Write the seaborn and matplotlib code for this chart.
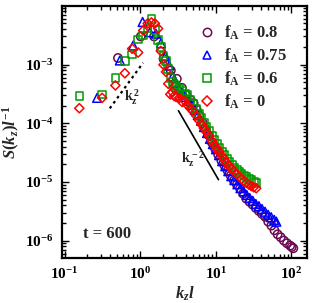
import numpy as np
import pandas as pd
import matplotlib
matplotlib.use("Agg")
import matplotlib.pyplot as plt
from matplotlib.lines import Line2D
from matplotlib.ticker import LogLocator, LogFormatterMathtext, NullFormatter
import seaborn as sns

# f_A = 0.8
k_08 = [0.51, 1.02, 1.53, 2.04, 2.55, 3.06, 3.57, 4.08, 4.6, 5.1, 5.6, 6.1, 6.7, 7.4, 8.1,
        8.9, 9.8, 10.8, 11.9, 13.1, 14.4, 15.8, 17.4, 19.1, 21.0, 23.1, 25.4, 28.0, 30.8,
        33.9, 37.3, 41.0, 45.1, 49.6, 54.6, 60.0, 66.0, 72.6, 79.9, 87.9, 96.7, 101.5, 106.5]
s_08 = [1.29e-3, 3.0e-3, 3.0e-3, 1.25e-3, 7.9e-4, 5.7e-4, 4.0e-4, 3.0e-4, 2.5e-4, 2.2e-4,
        1.7e-4, 1.35e-4, 1.02e-4, 7.9e-5, 6.2e-5, 4.7e-5, 3.7e-5, 2.9e-5, 2.3e-5, 1.9e-5,
        1.55e-5, 1.28e-5, 1.05e-5, 9.0e-6, 7.7e-6, 6.3e-6, 5.2e-6, 4.6e-6, 4.1e-6, 3.6e-6,
        3.2e-6, 2.85e-6, 2.55e-6, 2.1e-6, 1.8e-6, 1.5e-6, 1.28e-6, 1.14e-6, 1.0e-6, 9.0e-7,
        8.2e-7, 7.8e-7, 7.4e-7]

# f_A = 0.75
k_075 = [0.27, 0.54, 0.81, 1.08, 1.35, 1.62, 1.89, 2.16, 2.43, 2.70, 2.97, 3.3, 3.6, 4.0,
         4.4, 4.8, 5.3, 5.8, 6.4, 7.0, 7.7, 8.4, 9.2, 10.1, 11.1, 12.2, 13.4, 14.7, 16.1,
         17.7, 19.4, 21.3, 23.4, 25.7, 28.2, 31.0, 34.0, 37.3, 41.0, 45.0, 49.4, 54.2, 59.5, 63.5]
s_075 = [2.7e-4, 1.17e-3, 2.1e-3, 5.3e-3, 3.55e-3, 3.35e-3, 2.3e-3, 1.4e-3, 9.6e-4, 6.3e-4,
         4.9e-4, 3.8e-4, 3.25e-4, 2.8e-4, 2.4e-4, 2.05e-4, 1.68e-4, 1.38e-4, 1.1e-4, 8.6e-5,
         6.8e-5, 5.4e-5, 4.4e-5, 3.6e-5, 2.85e-5, 2.25e-5, 1.85e-5, 1.52e-5, 1.25e-5, 1.07e-5,
         9.1e-6, 7.8e-6, 6.9e-6, 6.0e-6, 5.3e-6, 4.75e-6, 4.2e-6, 3.85e-6, 3.45e-6, 3.1e-6,
         2.75e-6, 2.5e-6, 2.25e-6, 2.1e-6]

# f_A = 0.6
k_06 = [0.157, 0.314, 0.471, 0.628, 0.785, 0.942, 1.10, 1.26, 1.41, 1.57, 1.73, 1.88, 2.04,
        2.20, 2.36, 2.51, 2.67, 2.83, 3.0, 3.3, 3.6, 3.9, 4.2, 4.6, 5.0, 5.5, 6.0, 6.5, 7.0,
        7.6, 8.2, 8.9, 9.6, 10.4, 11.2, 12.1, 13.0, 14.0, 15.1, 16.3, 17.6, 19.0, 20.5, 22.0,
        23.7, 25.5, 27.5, 29.6, 31.9, 34.4]
s_06 = [2.9e-4, 3.1e-4, 5.9e-4, 1.14e-3, 1.47e-3, 2.68e-3, 3.14e-3, 4.1e-3, 6.0e-3, 3.9e-3,
        2.6e-3, 2.0e-3, 1.4e-3, 1.16e-3, 8.4e-4, 5.9e-4, 5.0e-4, 4.5e-4, 4.1e-4, 3.8e-4,
        3.5e-4, 3.2e-4, 3.0e-4, 2.5e-4, 2.1e-4, 1.75e-4, 1.45e-4, 1.22e-4, 1.03e-4, 8.6e-5,
        7.4e-5, 6.1e-5, 5.2e-5, 4.4e-5, 3.8e-5, 3.3e-5, 2.85e-5, 2.5e-5, 2.2e-5, 1.95e-5,
        1.75e-5, 1.6e-5, 1.47e-5, 1.38e-5, 1.28e-5, 1.2e-5, 1.12e-5, 1.07e-5, 1.02e-5, 9.6e-6]

# f_A = 0
k_0 = [0.157, 0.314, 0.471, 0.628, 0.785, 0.942, 1.10, 1.26, 1.41, 1.57, 1.73, 1.88, 2.04,
       2.20, 2.36, 2.51, 2.67, 2.83, 3.0, 3.3, 3.6, 3.9, 4.2, 4.6, 5.0, 5.5, 6.0, 6.5, 7.0,
       7.6, 8.2, 8.9, 9.6, 10.4, 11.2, 12.1, 13.0, 14.0, 15.1, 16.3, 17.6, 19.0, 20.5, 22.0,
       23.7, 25.5, 27.5, 29.6, 31.9, 34.4]
s_0 = [1.8e-4, 2.7e-4, 4.4e-4, 7.1e-4, 1.86e-3, 1.6e-3, 3.8e-3, 5.0e-3, 5.2e-3, 5.0e-3,
       4.1e-3, 1.7e-3, 9.9e-4, 7.5e-4, 4.7e-4, 3.1e-4, 3.4e-4, 2.9e-4, 2.8e-4, 2.7e-4,
       2.3e-4, 2.4e-4, 2.05e-4, 1.8e-4, 1.6e-4, 1.35e-4, 1.12e-4, 9.5e-5, 8.2e-5, 7.0e-5,
       6.0e-5, 5.0e-5, 4.3e-5, 3.7e-5, 3.2e-5, 2.75e-5, 2.4e-5, 2.1e-5, 1.85e-5, 1.65e-5,
       1.5e-5, 1.35e-5, 1.22e-5, 1.12e-5, 1.03e-5, 9.6e-6, 9.0e-6, 8.5e-6, 8.1e-6, 7.8e-6]

# guide lines (k^2 dotted, k^-2 solid)
guide_up_k = [0.397, 1.096]
guide_up_s = [1.79e-4, 1.07e-3]
guide_dn_k = [3.22, 10.9]
guide_dn_s = [1.63e-4, 1.09e-5]

series = [
    ("0.8", k_08, s_08, "o", "#6b0a52"),
    ("0.75", k_075, s_075, "^", "#0000ff"),
    ("0.6", k_06, s_06, "s", "#009a00"),
    ("0", k_0, s_0, "D", "#ff0000"),
]

sns.set_style("ticks")
plt.rcParams["font.family"] = ["Liberation Serif", "DejaVu Serif"]
plt.rcParams["font.weight"] = "bold"
plt.rcParams["mathtext.fontset"] = "custom"
plt.rcParams["mathtext.rm"] = "Liberation Serif:bold"
plt.rcParams["mathtext.bf"] = "Liberation Serif:bold"
plt.rcParams["mathtext.it"] = "Liberation Serif:italic:bold"
plt.rcParams["mathtext.default"] = "bf"

fig = plt.figure(figsize=(3.18, 3.03), dpi=100)
ax = fig.add_axes([0.195, 0.1485, 0.77, 0.8315])

sizes = {"o": 36, "^": 40, "s": 30, "D": 22}
for name, kk, ss, mk, col in series:
    df = pd.DataFrame({"k": kk, "S": ss})
    sns.scatterplot(data=df, x="k", y="S", marker=mk, s=sizes[mk], facecolors="none",
                    edgecolors=col, linewidths=1.1, ax=ax, legend=False)

ax.plot(guide_up_k, guide_up_s, color="black", ls=(0, (1.2, 1.6)), lw=1.6)
ax.plot(guide_dn_k, guide_dn_s, color="black", ls="-", lw=1.2)

ax.set_xscale("log")
ax.set_yscale("log")
ax.set_xlim(0.0926, 161)
ax.set_ylim(5.05e-7, 0.0099)

for a in (ax.xaxis, ax.yaxis):
    a.set_major_locator(LogLocator(base=10, numticks=20))
    a.set_minor_locator(LogLocator(base=10, subs=np.arange(2, 10), numticks=20))
    a.set_major_formatter(LogFormatterMathtext())
    a.set_minor_formatter(NullFormatter())

ax.tick_params(which="both", direction="in", top=True, right=True, width=1.0,
               color="black", labelcolor="black", labelsize=11, pad=6)
ax.tick_params(which="major", length=5)
ax.tick_params(which="minor", length=3)
for sp in ax.spines.values():
    sp.set_linewidth(1.6)
    sp.set_color("black")
    sp.set_visible(True)

ax.set_xlabel(r"$\mathit{k_z l}$", fontsize=12, labelpad=2)
ax.set_ylabel(r"$\mathit{S(k_z)l^{-1}}$", fontsize=12, labelpad=2)

ax.text(0.62, 2.8e-4, r"$k_z^{\,2}$", fontsize=10, ha="left", va="center")
ax.text(3.5, 2.4e-5, r"$k_z^{\,-2}$", fontsize=10, ha="left", va="center")
ax.text(0.37, 1.3e-6, "t = 600", fontsize=12, fontweight="bold", ha="center", va="center")

handles = [Line2D([], [], ls="none", marker=mk, mfc="none", mec=col, mew=1.1,
                  ms=6 if mk != "D" else 5) for _, _, _, mk, col in series]
labels = [r"$\mathbf{f_A}$ = " + name for name, _, _, _, _ in series]
ax.legend(handles, labels, loc="upper left", bbox_to_anchor=(0.56, 0.93), frameon=False,
          fontsize=12, handlelength=1.0, handletextpad=0.5, labelspacing=0.28,
          borderpad=0, borderaxespad=0)

fig.savefig("out.png", dpi=100)
